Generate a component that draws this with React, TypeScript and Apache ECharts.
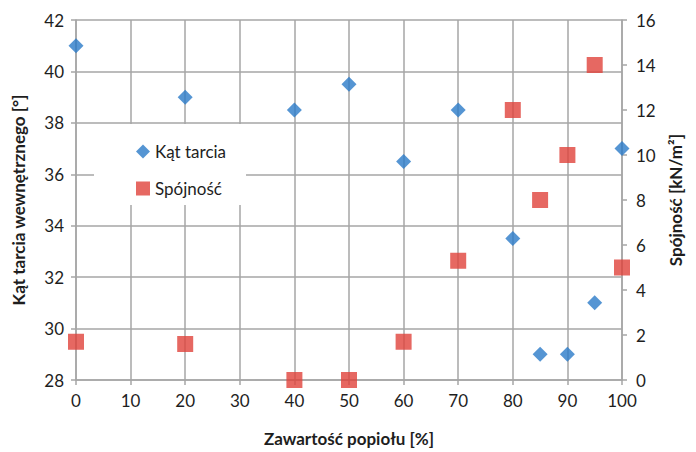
import React, { useEffect, useRef } from "react";
import * as echarts from "echarts";

const angleData: [number, number][] = [
  [0, 41], [20, 39], [40, 38.5], [50, 39.5], [60, 36.5], [70, 38.5],
  [80, 33.5], [85, 29], [90, 29], [95, 31], [100, 37],
];
const cohesionData: [number, number][] = [
  [0, 1.7], [20, 1.6], [40, 0], [50, 0], [60, 1.7], [70, 5.3],
  [80, 12], [85, 8], [90, 10], [95, 14], [100, 5],
];
const seriesNames = ["Kąt tarcia", "Spójność"];
const xTitle = "Zawartość popiołu [%]";
const yLeftTitle = "Kąt tarcia wewnętrznego [°]";
const yRightTitle = "Spójność [kN/m²]";

const FONT = "Lato";
const GRID = "#a6a6a6";
const TEXT = "#1e1e1e";

export default function App() {
  const ref = useRef<HTMLDivElement>(null);
  useEffect(() => {
    document.body.style.margin = "0";
    const chart = echarts.init(ref.current!, null, { renderer: "svg" });
    chart.setOption({
      animation: false,
      backgroundColor: "#fff",
      textStyle: { fontFamily: FONT },
      grid: { left: 76, right: 74, top: 20, bottom: 70, containLabel: false },
      legend: {
        orient: "vertical",
        left: 94,
        top: 124,
        backgroundColor: "#fff",
        padding: [19, 20, 8, 42],
        itemGap: 20,
        itemWidth: 14,
        itemHeight: 14,
        textStyle: { fontSize: 17, color: TEXT, fontFamily: FONT },
        data: [
          { name: seriesNames[0], icon: "diamond" },
          { name: seriesNames[1], icon: "rect" },
        ],
      },
      xAxis: {
        type: "value",
        min: 0,
        max: 100,
        interval: 10,
        name: xTitle,
        nameLocation: "middle",
        nameGap: 50,
        nameTextStyle: { fontSize: 17, fontWeight: "bold", color: TEXT, fontFamily: FONT },
        axisLine: { show: true, lineStyle: { color: GRID, width: 1.5 } },
        axisTick: { show: true, length: 5, lineStyle: { color: GRID, width: 1.5 } },
        axisLabel: { fontSize: 17, color: TEXT, margin: 12, fontFamily: FONT },
        splitLine: { show: true, lineStyle: { color: GRID, width: 1.5 } },
      },
      yAxis: [
        {
          type: "value",
          min: 28,
          max: 42,
          interval: 2,
          position: "left",
          name: yLeftTitle,
          nameLocation: "middle",
          nameRotate: 90,
          nameGap: 49,
          nameTextStyle: { fontSize: 17, fontWeight: "bold", color: TEXT, fontFamily: FONT },
          axisLine: { show: true, lineStyle: { color: GRID, width: 1.5 } },
          axisTick: { show: true, length: 5, lineStyle: { color: GRID, width: 1.5 } },
          axisLabel: { fontSize: 17, color: TEXT, margin: 12, fontFamily: FONT },
          splitLine: { show: true, lineStyle: { color: GRID, width: 1.5 } },
        },
        {
          type: "value",
          min: 0,
          max: 16,
          interval: 2,
          position: "right",
          name: yRightTitle,
          nameLocation: "middle",
          nameRotate: 90,
          nameGap: 44,
          nameTextStyle: { fontSize: 17, fontWeight: "bold", color: TEXT, fontFamily: FONT },
          axisLine: { show: true, lineStyle: { color: GRID, width: 1.5 } },
          axisTick: { show: true, length: 5, lineStyle: { color: GRID, width: 1.5 } },
          axisLabel: { fontSize: 17, color: TEXT, margin: 14, fontFamily: FONT },
          splitLine: { show: false },
        },
      ],
      series: [
        {
          name: seriesNames[0],
          type: "scatter",
          yAxisIndex: 0,
          symbol: "diamond",
          symbolSize: 15,
          itemStyle: { color: "#2b7bc8" },
          data: angleData,
          z: 3,
        },
        {
          name: seriesNames[1],
          type: "scatter",
          yAxisIndex: 1,
          symbol: "rect",
          symbolSize: 16,
          itemStyle: { color: "#e0423b" },
          data: cohesionData,
          z: 3,
        },
      ],
    });
    return () => chart.dispose();
  }, []);
  return <div ref={ref} style={{ width: 696, height: 452 }} />;
}
